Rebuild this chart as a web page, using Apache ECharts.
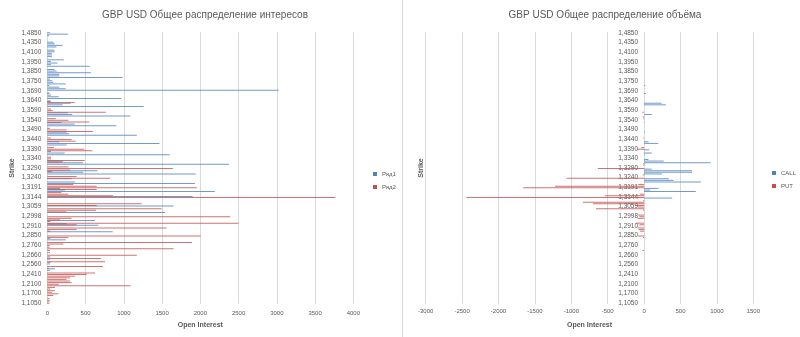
<!DOCTYPE html>
<html>
<head>
<meta charset="utf-8">
<script src="https://cdn.jsdelivr.net/npm/echarts@6/dist/echarts.min.js"></script>
<style>
  html, body { margin: 0; padding: 0; background: #ffffff; }
  #chart { width: 800px; height: 337px; }
</style>
</head>
<body>
<div id="chart"></div>
<script>
// Strike prices, bottom to top (every 6th one is labelled on the axis)
const strikes = [
  '1,1050','1,1150','1,1250','1,1350','1,1450','1,1550',
  '1,1700','1,1750','1,1800','1,1900','1,1950','1,2000',
  '1,2100','1,2150','1,2200','1,2250','1,2300','1,2350',
  '1,2410','1,2450','1,2480','1,2500','1,2520','1,2540',
  '1,2560','1,2580','1,2600','1,2610','1,2630','1,2650',
  '1,2660','1,2680','1,2700','1,2710','1,2730','1,2750',
  '1,2760','1,2770','1,2790','1,2800','1,2820','1,2840',
  '1,2850','1,2860','1,2870','1,2880','1,2890','1,2900',
  '1,2910','1,2920','1,2940','1,2950','1,2960','1,2980',
  '1,2998','1,3000','1,3010','1,3020','1,3030','1,3045',
  '1,3059','1,3070','1,3090','1,3100','1,3110','1,3130',
  '1,3144','1,3150','1,3160','1,3170','1,3180','1,3185',
  '1,3191','1,3200','1,3210','1,3220','1,3225','1,3230',
  '1,3240','1,3250','1,3260','1,3270','1,3275','1,3280',
  '1,3290','1,3300','1,3310','1,3320','1,3325','1,3330',
  '1,3340','1,3350','1,3360','1,3370','1,3375','1,3380',
  '1,3390','1,3400','1,3410','1,3420','1,3425','1,3430',
  '1,3440','1,3450','1,3460','1,3470','1,3475','1,3480',
  '1,3490','1,3500','1,3510','1,3520','1,3525','1,3530',
  '1,3540','1,3550','1,3560','1,3570','1,3575','1,3580',
  '1,3590','1,3600','1,3610','1,3620','1,3625','1,3630',
  '1,3640','1,3650','1,3660','1,3670','1,3675','1,3680',
  '1,3690','1,3700','1,3710','1,3720','1,3725','1,3740',
  '1,3750','1,3760','1,3775','1,3800','1,3810','1,3825',
  '1,3850','1,3875','1,3890','1,3900','1,3925','1,3940',
  '1,3950','1,4000','1,4025','1,4050','1,4060','1,4075',
  '1,4100','1,4150','1,4200','1,4250','1,4300','1,4325',
  '1,4350','1,4400','1,4500','1,4600','1,4700','1,4800',
  '1,4850'
];

// Open interest, series 1 (blue)
const oiRow1 = [
  0,0,0,0,0,0,
  0,0,0,0,0,0,
  0,0,0,0,0,0,
  0,0,35,100,0,0,
  35,40,0,35,0,0,
  0,35,0,0,0,0,
  0,0,0,240,40,0,
  0,0,855,0,0,0,
  667,253,0,625,0,0,
  0,0,1540,0,0,0,
  1650,0,0,0,0,0,
  1900,0,0,2190,230,165,
  0,0,1930,360,0,320,
  0,0,1940,470,655,0,
  0,0,2376,467,209,0,
  0,0,1600,227,48,0,
  0,0,253,1465,157,0,
  0,0,1170,284,253,0,
  0,0,903,358,187,0,
  0,0,1085,327,270,0,
  0,0,1260,200,305,35,
  0,965,148,48,26,0,
  3025,240,157,26,240,78,
  65,35,985,157,157,570,
  122,96,0,555,48,135,
  48,215,0,60,60,57,
  95,95,0,120,200,96,
  80,0,0,0,25,270,
  35
];

// Open interest, series 2 (red)
const oiRow2 = [
  25,28,30,30,0,78,
  145,60,100,35,100,1090,
  150,318,297,250,297,360,
  515,625,0,0,20,730,
  0,0,755,0,700,40,
  1170,0,0,35,1650,30,
  30,210,1890,0,0,275,
  2005,0,0,40,384,1560,
  0,384,2500,40,165,318,
  2390,0,0,250,637,1495,
  0,645,1235,0,0,0,
  3765,860,275,185,0,645,
  1955,645,340,0,0,0,
  820,384,0,0,60,297,
  1640,275,0,0,192,488,
  47,50,0,0,0,589,
  484,87,0,0,0,371,
  318,48,0,0,0,594,
  253,35,0,0,0,550,
  275,110,0,0,0,764,
  70,48,0,0,0,358,
  48,0,0,0,0,26,
  0,0,0,0,0,0,
  0,0,0,0,0,0,
  0,0,0,0,0,0,
  0,0,0,0,0,0,
  0,0,0,0,0,0,
  0,0,0,0,0,0,
  0
];

// Volume: calls (positive) and puts (negative)
const volCall = [
  0,0,0,0,0,0,
  0,0,0,0,0,0,
  0,0,0,0,0,0,
  0,0,0,0,0,0,
  0,0,0,0,0,0,
  0,0,0,0,0,0,
  0,0,0,0,0,0,
  0,0,0,0,0,0,
  0,0,0,0,0,0,
  0,0,0,0,0,0,
  0,0,0,0,0,385,
  0,0,0,710,85,200,
  0,0,0,780,405,340,
  0,0,245,660,660,105,
  0,0,0,915,270,60,
  0,0,10,105,0,70,
  0,0,0,195,60,0,
  0,0,0,0,10,0,
  0,0,0,0,5,0,
  0,0,0,105,0,0,
  0,0,0,300,240,0,
  0,0,0,0,25,0,
  0,0,0,15,0,0,
  0,0,0,0,0,0,
  0,0,0,0,0,0,
  0,0,0,0,0,0,
  0,0,0,0,0,0,
  0,0,0,0,0,0,
  0
];

const volPut = [
  0,0,0,0,0,0,
  0,0,0,0,0,0,
  0,0,0,0,0,0,
  0,0,0,0,0,0,
  0,0,0,0,0,0,
  0,0,0,-20,0,0,
  0,0,0,0,0,-15,
  -80,0,0,-55,-75,-90,
  0,-65,-110,0,0,-90,
  -65,-80,0,0,-15,-660,
  -85,-125,-700,-840,-15,0,
  -2440,-540,-55,0,0,0,
  -1660,-1225,-80,0,0,0,
  -1065,0,-20,0,0,0,
  -635,0,-10,-15,0,0,
  0,0,0,0,0,0,
  -100,-40,0,0,0,0,
  0,-10,0,0,0,0,
  0,0,0,0,0,0,
  0,-10,-20,0,0,-25,
  0,0,0,0,0,0,
  0,0,0,0,0,0,
  0,0,0,0,0,0,
  0,0,0,0,0,0,
  0,0,0,0,0,0,
  0,0,0,0,0,0,
  0,0,0,0,0,0,
  0,0,0,0,0,0,
  0
];

const FONT = '"Liberation Sans", Arial, sans-serif';
const TEXT = '#595959';
const LINE = '#d9d9d9';
const BLUE = '#4f81bd';
const RED = '#c0504d';

// Plot rectangles
const LEFT_GRID = { left: 47.3, top: 32.2, width: 306, height: 271.6 };
const RIGHT_GRID = { left: 425.7, top: 32.2, width: 327.6, height: 271.6 };
const VOL_MIN = -3000, VOL_MAX = 1500;
// horizontal distance from the right plot's left edge to its zero line
const zeroShift = RIGHT_GRID.width * (0 - VOL_MIN) / (VOL_MAX - VOL_MIN);

const plain = v => String(v);

function valueAxis(gridIndex, min, max, labelMargin) {
  return {
    type: 'value', gridIndex, min, max, interval: 500,
    axisLine: { show: false }, axisTick: { show: false },
    axisLabel: { fontSize: 6, color: TEXT, margin: labelMargin, formatter: plain, fontFamily: FONT },
    splitLine: { lineStyle: { color: LINE, width: 1 } },
    name: 'Open Interest', nameLocation: 'middle', nameGap: 18,
    nameTextStyle: { fontSize: 7, fontWeight: 'bold', color: TEXT, fontFamily: FONT }
  };
}

const barStyle = color => ({ color, opacity: 0.8 });

const chart = echarts.init(document.getElementById('chart'), null, { renderer: 'canvas' });
chart.setOption({
  animation: false,
  textStyle: { fontFamily: FONT },
  title: [
    { text: 'GBP USD Общее распределение интересов', left: 200, top: 5, textAlign: 'center',
      textStyle: { fontSize: 10, fontWeight: 'normal', color: TEXT, fontFamily: FONT } },
    { text: 'GBP USD Общее распределение объёма', left: 600, top: 5, textAlign: 'center',
      textStyle: { fontSize: 10, fontWeight: 'normal', color: TEXT, fontFamily: FONT } }
  ],
  legend: [
    { data: ['Ряд1', 'Ряд2'], orient: 'vertical', left: 368, top: 166, icon: 'rect',
      itemWidth: 4, itemHeight: 4, itemGap: 7,
      itemStyle: { opacity: 1 },
      textStyle: { fontSize: 6, color: TEXT, fontFamily: FONT } },
    { data: ['CALL', 'PUT'], orient: 'vertical', left: 767, top: 165, icon: 'rect',
      itemWidth: 4, itemHeight: 4, itemGap: 7,
      itemStyle: { opacity: 1 },
      textStyle: { fontSize: 6, color: TEXT, fontFamily: FONT } }
  ],
  grid: [LEFT_GRID, RIGHT_GRID],
  xAxis: [
    valueAxis(0, 0, 4000, 7),
    valueAxis(1, VOL_MIN, VOL_MAX, 5)
  ],
  yAxis: [
    { type: 'category', gridIndex: 0, position: 'left', data: strikes,
      axisLine: { lineStyle: { color: LINE } }, axisTick: { show: false },
      axisLabel: { interval: 5, fontSize: 6.5, color: TEXT, margin: 6, fontFamily: FONT },
      name: 'Strike', nameLocation: 'middle', nameGap: 32, nameRotate: 90,
      nameTextStyle: { fontSize: 7, fontWeight: 'bold', color: TEXT, fontFamily: FONT } },
    // strike axis drawn along the zero line of the volume plot
    { type: 'category', gridIndex: 1, position: 'left', offset: -zeroShift, data: strikes,
      axisLine: { onZero: false, lineStyle: { color: LINE } }, axisTick: { show: false },
      axisLabel: { interval: 5, fontSize: 6.5, color: TEXT, margin: 6, fontFamily: FONT } },
    // carries the axis title at the left edge of the volume plot
    { type: 'category', gridIndex: 1, position: 'left', data: strikes,
      axisLine: { show: false, onZero: false }, axisTick: { show: false }, axisLabel: { show: false },
      splitLine: { show: false },
      name: 'Strike', nameLocation: 'middle', nameGap: 1, nameRotate: 90,
      nameTextStyle: { fontSize: 7, fontWeight: 'bold', color: TEXT, fontFamily: FONT } }
  ],
  series: [
    { name: 'Ряд1', type: 'bar', xAxisIndex: 0, yAxisIndex: 0, data: oiRow1,
      itemStyle: barStyle(BLUE), barGap: '0%', barCategoryGap: '0%' },
    { name: 'Ряд2', type: 'bar', xAxisIndex: 0, yAxisIndex: 0, data: oiRow2,
      itemStyle: barStyle(RED), barGap: '0%', barCategoryGap: '0%' },
    { name: 'CALL', type: 'bar', xAxisIndex: 1, yAxisIndex: 1, data: volCall,
      itemStyle: barStyle(BLUE), barGap: '0%', barCategoryGap: '0%' },
    { name: 'PUT', type: 'bar', xAxisIndex: 1, yAxisIndex: 1, data: volPut,
      itemStyle: barStyle(RED), barGap: '0%', barCategoryGap: '0%' }
  ],
  graphic: [
    { type: 'line', shape: { x1: 402.5, y1: 0, x2: 402.5, y2: 337 },
      style: { stroke: LINE, lineWidth: 1 }, silent: true }
  ]
});
</script>
</body>
</html>
